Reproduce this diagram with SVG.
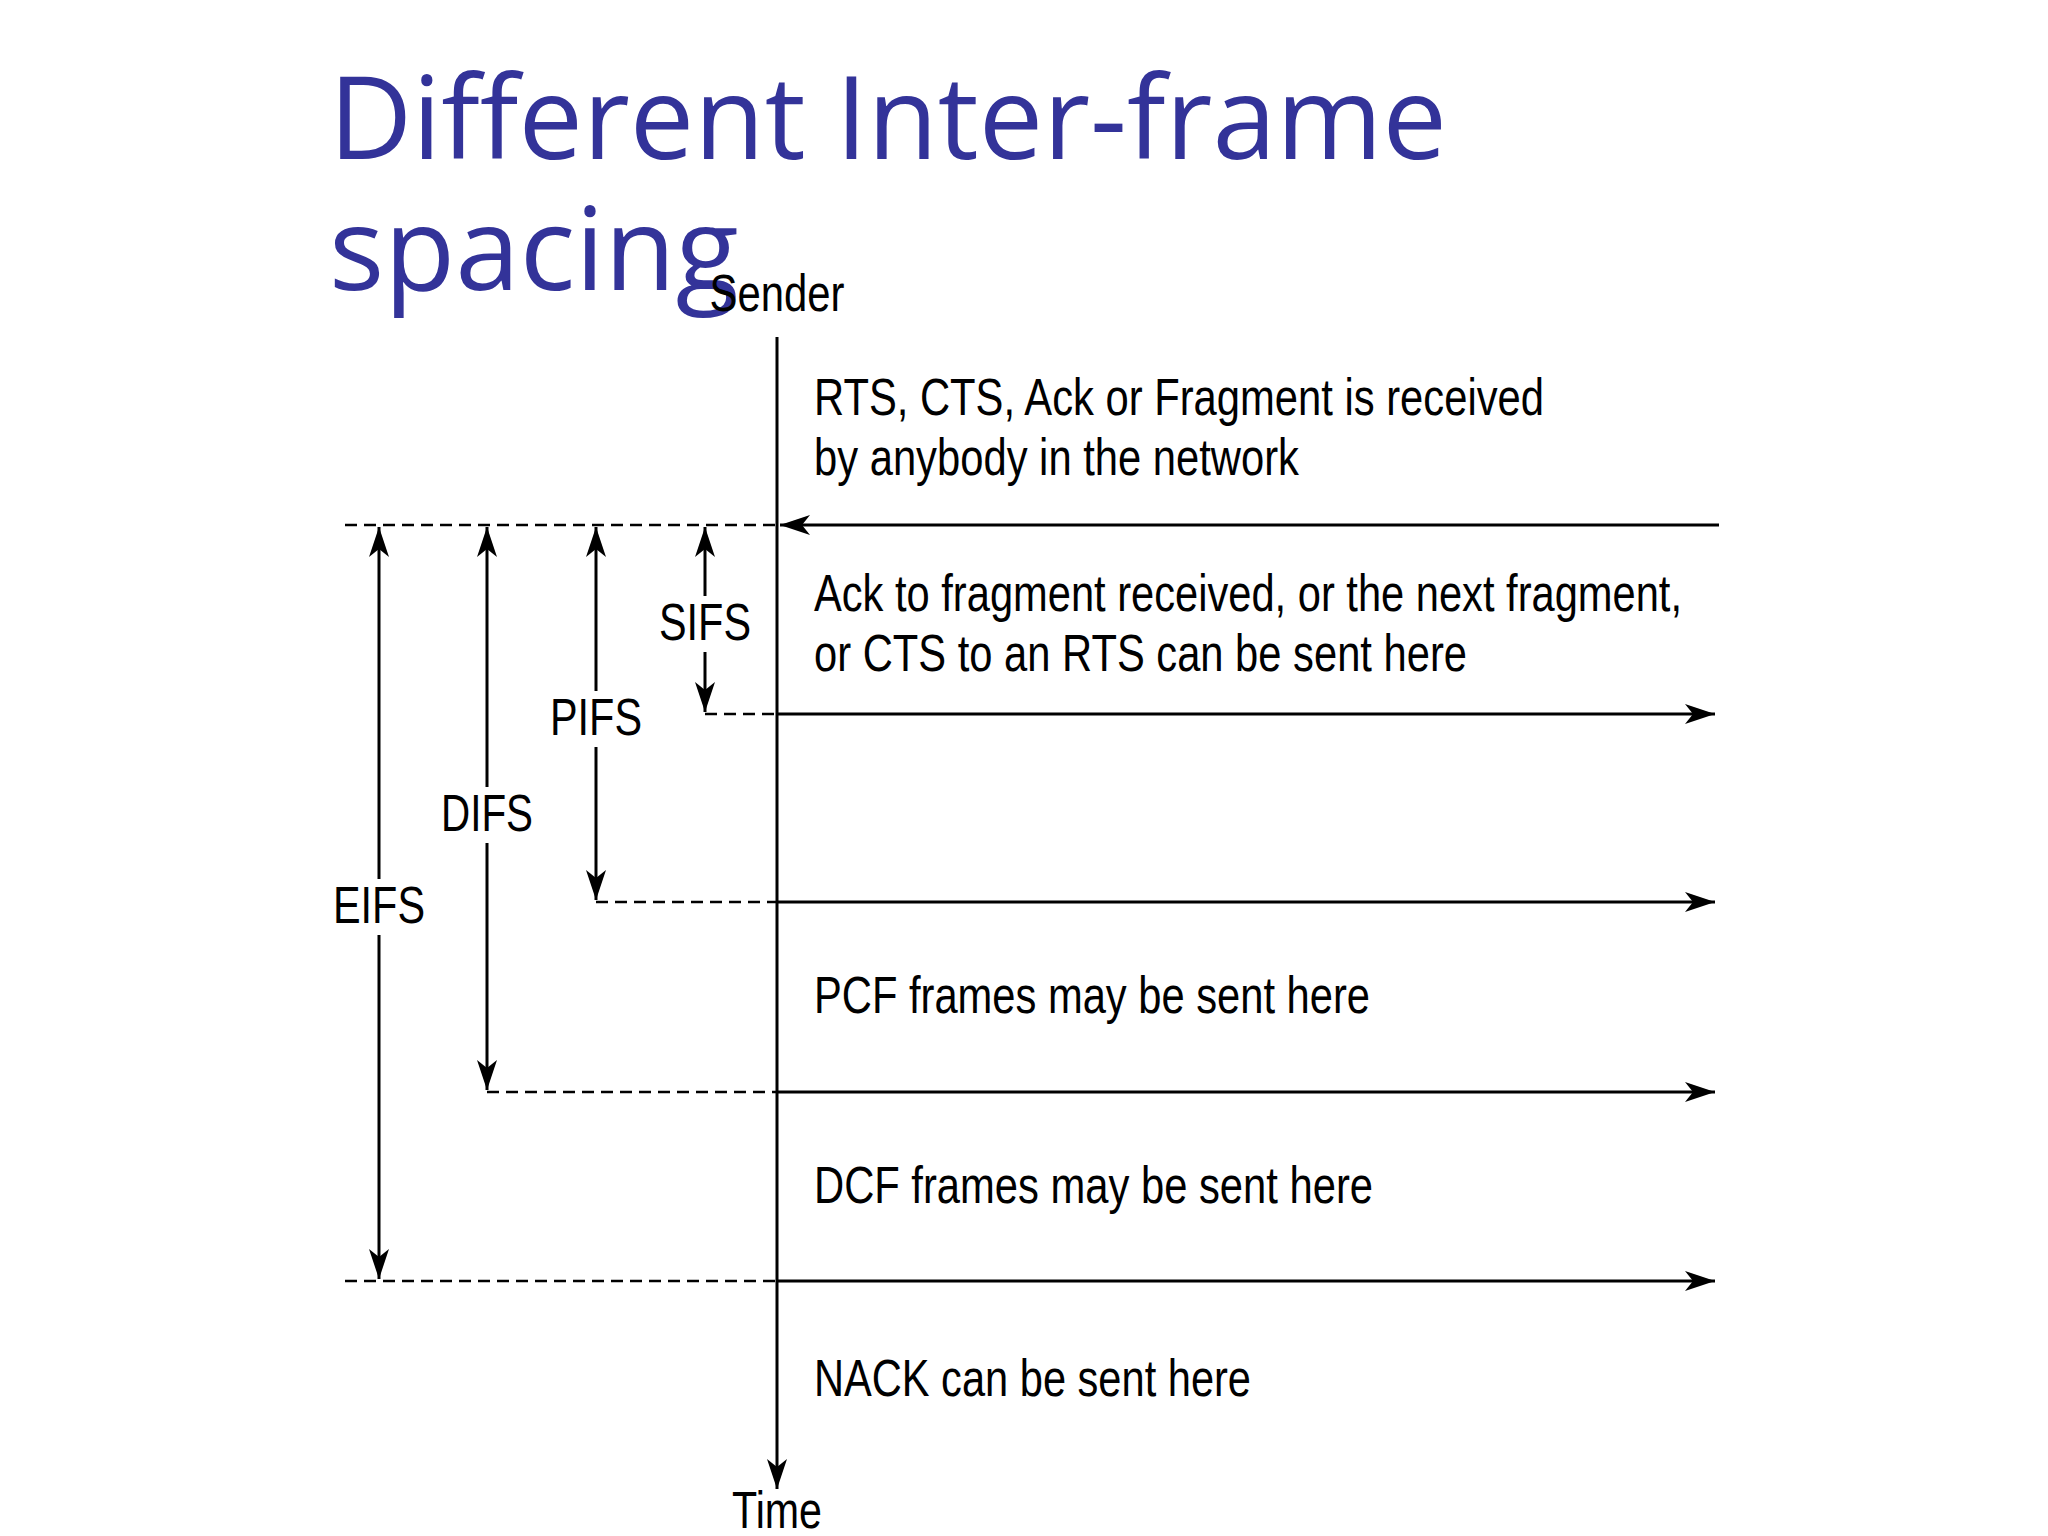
<svg xmlns="http://www.w3.org/2000/svg" width="2048" height="1536" viewBox="0 0 2048 1536">
<style>
.t{font-family:"Liberation Sans",Arial,sans-serif;font-size:52px;fill:#000}
.l{font-family:"Liberation Sans",Arial,sans-serif;font-size:52px;fill:#000;text-anchor:middle}
.ln{stroke:#000;stroke-width:3;fill:none}
.d{stroke:#000;stroke-width:2.5;stroke-dasharray:12 7;fill:none}
.bg{fill:#fff}
</style>
<defs>
<marker id="a" viewBox="0 0 30 20" refX="30" refY="10" markerWidth="30" markerHeight="20" markerUnits="userSpaceOnUse" orient="auto"><path d="M0,0 L30,10 L0,20 L8,10 Z" fill="#000"/></marker>
</defs>
<rect width="2048" height="1536" fill="#fff"/>
<g id="title"><text x="329" y="159" font-family="'Open Sans','Noto Sans',sans-serif" font-size="116" fill="#333399" textLength="1118" lengthAdjust="spacingAndGlyphs">Different Inter-frame</text><text x="329" y="290" font-family="'Open Sans','Noto Sans',sans-serif" font-size="116" fill="#333399">spacing</text></g>
<g id="connectors">
<line class="ln" x1="777" y1="337" x2="777" y2="1489" marker-end="url(#a)"/>
<line class="d" x1="345" y1="525" x2="777" y2="525"/>
<line class="ln" x1="1719" y1="525" x2="780" y2="525" marker-end="url(#a)"/>
<line class="d" x1="705" y1="714" x2="777" y2="714"/>
<line class="ln" x1="777" y1="714" x2="1715" y2="714" marker-end="url(#a)"/>
<line class="d" x1="596" y1="902" x2="777" y2="902"/>
<line class="ln" x1="777" y1="902" x2="1715" y2="902" marker-end="url(#a)"/>
<line class="d" x1="487" y1="1092" x2="777" y2="1092"/>
<line class="ln" x1="777" y1="1092" x2="1715" y2="1092" marker-end="url(#a)"/>
<line class="d" x1="345" y1="1281" x2="777" y2="1281"/>
<line class="ln" x1="777" y1="1281" x2="1715" y2="1281" marker-end="url(#a)"/>
<line class="ln" x1="379" y1="900" x2="379" y2="527" marker-end="url(#a)"/>
<line class="ln" x1="379" y1="900" x2="379" y2="1279" marker-end="url(#a)"/>
<line class="ln" x1="487" y1="810" x2="487" y2="527" marker-end="url(#a)"/>
<line class="ln" x1="487" y1="810" x2="487" y2="1090" marker-end="url(#a)"/>
<line class="ln" x1="596" y1="715" x2="596" y2="527" marker-end="url(#a)"/>
<line class="ln" x1="596" y1="715" x2="596" y2="900" marker-end="url(#a)"/>
<line class="ln" x1="705" y1="620" x2="705" y2="527" marker-end="url(#a)"/>
<line class="ln" x1="705" y1="620" x2="705" y2="712" marker-end="url(#a)"/>
</g>
<g id="labels">
<text class="l" x="777" y="311" font-size="47" textLength="135" lengthAdjust="spacingAndGlyphs">Sender</text>
<rect class="bg" x="655" y="596" width="100" height="56"/>
<text class="l" x="705" y="640" textLength="92" lengthAdjust="spacingAndGlyphs">SIFS</text>
<rect class="bg" x="546" y="691" width="100" height="56"/>
<text class="l" x="596" y="735" textLength="92" lengthAdjust="spacingAndGlyphs">PIFS</text>
<rect class="bg" x="437" y="787" width="100" height="56"/>
<text class="l" x="487" y="831" textLength="92" lengthAdjust="spacingAndGlyphs">DIFS</text>
<rect class="bg" x="329" y="879" width="100" height="56"/>
<text class="l" x="379" y="923" textLength="92" lengthAdjust="spacingAndGlyphs">EIFS</text>
<text class="t" x="814" y="415" textLength="730" lengthAdjust="spacingAndGlyphs">RTS, CTS, Ack or Fragment is received</text>
<text class="t" x="814" y="475" textLength="485" lengthAdjust="spacingAndGlyphs">by anybody in the network</text>
<text class="t" x="814" y="611" textLength="868" lengthAdjust="spacingAndGlyphs">Ack to fragment received, or the next fragment,</text>
<text class="t" x="814" y="671" textLength="653" lengthAdjust="spacingAndGlyphs">or CTS to an RTS can be sent here</text>
<text class="t" x="814" y="1013" textLength="556" lengthAdjust="spacingAndGlyphs">PCF frames may be sent here</text>
<text class="t" x="814" y="1203" textLength="559" lengthAdjust="spacingAndGlyphs">DCF frames may be sent here</text>
<text class="t" x="814" y="1396" textLength="437" lengthAdjust="spacingAndGlyphs">NACK can be sent here</text>
<text class="l" x="777" y="1528" font-size="50" textLength="90" lengthAdjust="spacingAndGlyphs">Time</text>
</g>
</svg>
